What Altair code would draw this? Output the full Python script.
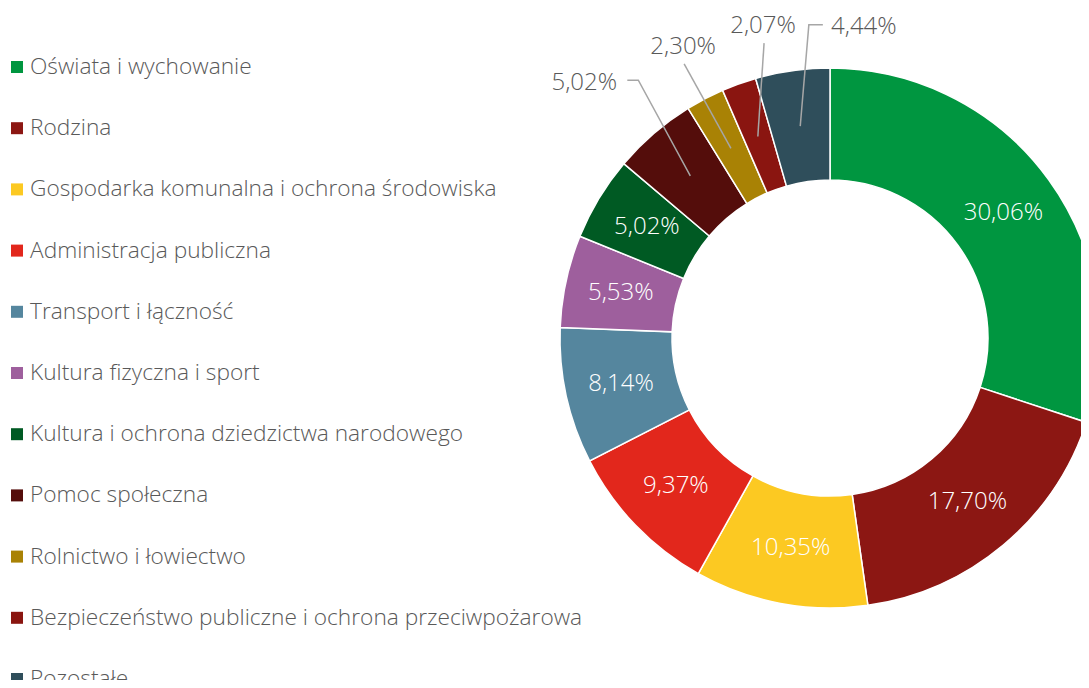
import math
import altair as alt
import pandas as pd

categories = [
    "Oświata i wychowanie",
    "Rodzina",
    "Gospodarka komunalna i ochrona środowiska",
    "Administracja publiczna",
    "Transport i łączność",
    "Kultura fizyczna i sport",
    "Kultura i ochrona dziedzictwa narodowego",
    "Pomoc społeczna",
    "Rolnictwo i łowiectwo",
    "Bezpieczeństwo publiczne i ochrona przeciwpożarowa",
    "Pozostałe",
]
shares = [30.06, 17.70, 10.35, 9.37, 8.14, 5.53, 5.02, 5.02, 2.30, 2.07, 4.44]
colors = ["#009640", "#8C1713", "#FCC922", "#E2271C", "#55869E", "#9E5F9D",
          "#005A23", "#540D0B", "#A98205", "#8A1510", "#2F4E5B"]

W, H = 1073, 672
CX, CY = 822, 330
R_OUT, R_IN = 270, 158
R_LAB = 214
FONT = "Open Sans"
GRAY = "#595959"

fmt = [f"{v:.2f}".replace(".", ",") + "%" for v in shares]
outside = {7, 8, 9, 10}

df = pd.DataFrame({
    "idx": list(range(len(categories))),
    "category": categories,
    "share": shares,
    "inner": ["" if i in outside else fmt[i] for i in range(len(categories))],
})

# outside label placement (layout): label radius, angle offset (deg), leader points relative to text centre
out_layout = {
    7: dict(r=354, dang=-3.2, pts=[(43, -3), (54, -3)]),
    8: dict(r=326, dang=0.8, pts=[(1, 17)]),
    9: dict(r=319, dang=7.6, pts=[(1, 17)]),
    10: dict(r=313, dang=14.2, pts=[(-41, -2), (-55, -2)]),
}

total = sum(shares)
cum = 0.0
mids = []
for v in shares:
    mids.append((cum + v / 2) / total * 360.0)
    cum += v

def polar(r, ang):
    a = math.radians(ang)
    return CX + r * math.sin(a), CY - r * math.cos(a)

txt_rows, line_rows = [], []
for i, lay in out_layout.items():
    tx, ty = polar(lay["r"], mids[i] + lay["dang"])
    txt_rows.append({"x": tx, "y": ty, "t": fmt[i]})
    o = 0
    for dx, dy in lay["pts"]:
        line_rows.append({"g": i, "o": o, "x": tx + dx, "y": ty + dy})
        o += 1
    sx, sy = polar(R_LAB, mids[i])
    line_rows.append({"g": i, "o": o, "x": sx, "y": sy})

df_txt = pd.DataFrame(txt_rows)
df_line = pd.DataFrame(line_rows)

xs = alt.Scale(domain=[0, W], range=[0, W], nice=False, zero=False)
ys = alt.Scale(domain=[0, H], range=[0, H], nice=False, zero=False)
color_scale = alt.Scale(domain=categories, range=colors)
leg_y = alt.Y("idx:Q", scale=alt.Scale(domain=[0, 10], range=[59, 671], nice=False, zero=False), axis=None)

base = alt.Chart(df)

arcs = base.mark_arc(radius=R_OUT, radius2=R_IN, stroke="white", strokeWidth=1.5).encode(
    theta=alt.Theta("share:Q", stack=True),
    order=alt.Order("idx:Q", sort="ascending"),
    color=alt.Color("category:N", scale=color_scale, legend=None),
    x=alt.value(CX),
    y=alt.value(CY),
)

inner = base.mark_text(radius=R_LAB, font=FONT, fontSize=24, fontWeight=300, color="white",
                       baseline="middle", align="center").encode(
    theta=alt.Theta("share:Q", stack=True),
    order=alt.Order("idx:Q", sort="ascending"),
    detail="category:N",
    text="inner:N",
    x=alt.value(CX),
    y=alt.value(CY),
)

leaders = alt.Chart(df_line).mark_line(color="#A6A6A6", strokeWidth=1.5).encode(
    x=alt.X("x:Q", scale=xs, axis=None),
    y=alt.Y("y:Q", scale=ys, axis=None),
    detail="g:N",
    order="o:Q",
)

out_txt = alt.Chart(df_txt).mark_text(font=FONT, fontSize=24, fontWeight=300, color=GRAY,
                                      baseline="middle", align="center").encode(
    x=alt.X("x:Q", scale=xs, axis=None),
    y=alt.Y("y:Q", scale=ys, axis=None),
    text="t:N",
)

leg_sq = base.mark_square(size=144, opacity=1, strokeWidth=0).encode(
    x=alt.value(9),
    y=leg_y,
    color=alt.Color("category:N", scale=color_scale, legend=None),
)

leg_txt = base.mark_text(font=FONT, fontSize=22.7, fontWeight=300, color=GRAY,
                         align="left", baseline="middle").encode(
    x=alt.value(22),
    y=leg_y,
    text="category:N",
)

chart = alt.layer(arcs, inner, leaders, out_txt, leg_sq, leg_txt).resolve_scale(
    x="independent", y="independent"
).properties(
    width=W, height=H, padding=0, autosize=alt.AutoSizeParams(type="none"),
    background="white",
).configure_view(stroke=None)

chart.save("out.html", embed_options={"renderer": "svg", "actions": False})
